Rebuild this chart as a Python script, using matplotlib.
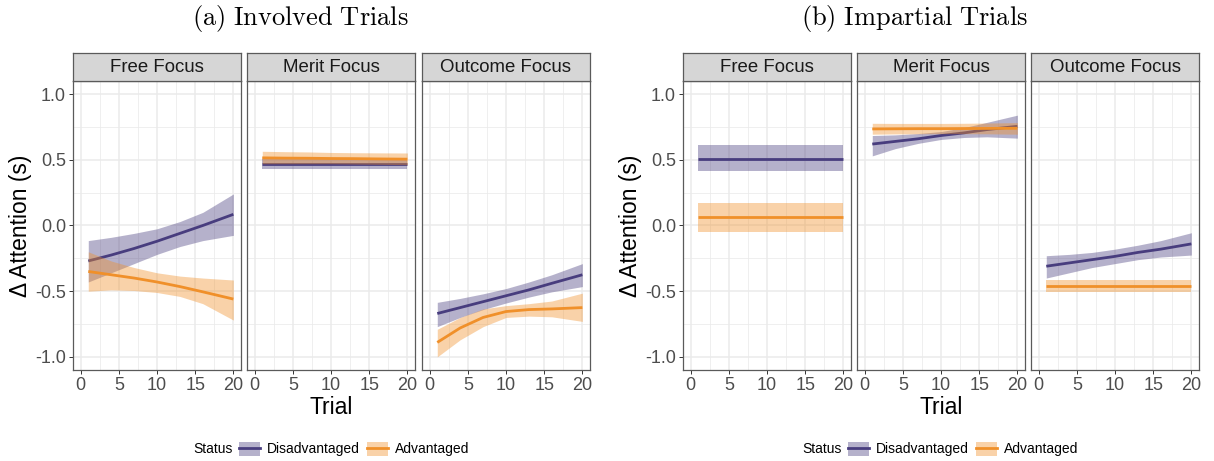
import matplotlib
matplotlib.use('Agg')
import matplotlib.pyplot as plt
from matplotlib.patches import Patch
from matplotlib.lines import Line2D
from matplotlib.legend_handler import HandlerTuple
from matplotlib.ticker import MultipleLocator

plt.rcParams['font.family'] = ['Liberation Sans', 'DejaVu Sans']
plt.rcParams['mathtext.fontset'] = 'cm'

# ---------------- data ----------------
trial = [1, 4, 7, 10, 13, 16, 20]
focus_labels = ['Free Focus', 'Merit Focus', 'Outcome Focus']
status_labels = ['Disadvantaged', 'Advantaged']
group_titles = ['(a) Involved Trials', '(b) Impartial Trials']
x_ticks = [0, 5, 10, 15, 20]
y_ticks = [-1.0, -0.5, 0.0, 0.5, 1.0]

# (a) Involved trials
inv_free_dis_fit = [-0.27, -0.225, -0.175, -0.12, -0.06, 0.00, 0.085]
inv_free_dis_lo = [-0.43, -0.36, -0.29, -0.22, -0.16, -0.115, -0.075]
inv_free_dis_hi = [-0.115, -0.09, -0.06, -0.025, 0.03, 0.10, 0.24]
inv_free_adv_fit = [-0.35, -0.375, -0.40, -0.43, -0.465, -0.505, -0.56]
inv_free_adv_lo = [-0.50, -0.49, -0.495, -0.51, -0.54, -0.595, -0.72]
inv_free_adv_hi = [-0.20, -0.27, -0.32, -0.36, -0.385, -0.40, -0.415]

inv_merit_dis_fit = [0.47, 0.47, 0.47, 0.47, 0.47, 0.47, 0.47]
inv_merit_dis_lo = [0.43, 0.43, 0.43, 0.43, 0.43, 0.43, 0.43]
inv_merit_dis_hi = [0.51, 0.51, 0.51, 0.51, 0.51, 0.51, 0.51]
inv_merit_adv_fit = [0.515, 0.513, 0.512, 0.51, 0.509, 0.507, 0.505]
inv_merit_adv_lo = [0.47, 0.47, 0.47, 0.47, 0.468, 0.466, 0.463]
inv_merit_adv_hi = [0.565, 0.562, 0.56, 0.556, 0.554, 0.553, 0.552]

inv_out_dis_fit = [-0.67, -0.625, -0.58, -0.535, -0.49, -0.44, -0.375]
inv_out_dis_lo = [-0.77, -0.70, -0.64, -0.59, -0.545, -0.505, -0.465]
inv_out_dis_hi = [-0.585, -0.555, -0.52, -0.48, -0.43, -0.375, -0.29]
inv_out_adv_fit = [-0.89, -0.78, -0.70, -0.655, -0.64, -0.635, -0.625]
inv_out_adv_lo = [-1.0, -0.87, -0.77, -0.70, -0.69, -0.695, -0.73]
inv_out_adv_hi = [-0.79, -0.70, -0.635, -0.61, -0.595, -0.575, -0.515]

# (b) Impartial trials
imp_free_dis_fit = [0.51, 0.51, 0.51, 0.51, 0.51, 0.51, 0.51]
imp_free_dis_lo = [0.415, 0.415, 0.415, 0.415, 0.415, 0.415, 0.415]
imp_free_dis_hi = [0.61, 0.61, 0.61, 0.61, 0.61, 0.61, 0.61]
imp_free_adv_fit = [0.065, 0.065, 0.065, 0.065, 0.065, 0.065, 0.065]
imp_free_adv_lo = [-0.05, -0.05, -0.05, -0.05, -0.05, -0.05, -0.05]
imp_free_adv_hi = [0.17, 0.17, 0.17, 0.17, 0.17, 0.17, 0.17]

imp_merit_dis_fit = [0.62, 0.64, 0.66, 0.685, 0.705, 0.73, 0.755]
imp_merit_dis_lo = [0.53, 0.585, 0.625, 0.655, 0.67, 0.675, 0.665]
imp_merit_dis_hi = [0.685, 0.69, 0.70, 0.715, 0.745, 0.785, 0.84]
imp_merit_adv_fit = [0.735, 0.736, 0.737, 0.737, 0.738, 0.739, 0.74]
imp_merit_adv_lo = [0.695, 0.697, 0.698, 0.699, 0.699, 0.698, 0.695]
imp_merit_adv_hi = [0.778, 0.777, 0.777, 0.777, 0.778, 0.78, 0.783]

imp_out_dis_fit = [-0.31, -0.285, -0.26, -0.235, -0.205, -0.18, -0.14]
imp_out_dis_lo = [-0.40, -0.36, -0.32, -0.29, -0.26, -0.24, -0.225]
imp_out_dis_hi = [-0.23, -0.22, -0.205, -0.18, -0.15, -0.115, -0.055]
imp_out_adv_fit = [-0.46, -0.46, -0.46, -0.46, -0.46, -0.46, -0.46]
imp_out_adv_lo = [-0.505, -0.505, -0.505, -0.505, -0.505, -0.505, -0.505]
imp_out_adv_hi = [-0.415, -0.415, -0.415, -0.415, -0.415, -0.415, -0.415]

groups = [
    [  # involved
        [(inv_free_dis_fit, inv_free_dis_lo, inv_free_dis_hi),
         (inv_free_adv_fit, inv_free_adv_lo, inv_free_adv_hi)],
        [(inv_merit_dis_fit, inv_merit_dis_lo, inv_merit_dis_hi),
         (inv_merit_adv_fit, inv_merit_adv_lo, inv_merit_adv_hi)],
        [(inv_out_dis_fit, inv_out_dis_lo, inv_out_dis_hi),
         (inv_out_adv_fit, inv_out_adv_lo, inv_out_adv_hi)],
    ],
    [  # impartial
        [(imp_free_dis_fit, imp_free_dis_lo, imp_free_dis_hi),
         (imp_free_adv_fit, imp_free_adv_lo, imp_free_adv_hi)],
        [(imp_merit_dis_fit, imp_merit_dis_lo, imp_merit_dis_hi),
         (imp_merit_adv_fit, imp_merit_adv_lo, imp_merit_adv_hi)],
        [(imp_out_dis_fit, imp_out_dis_lo, imp_out_dis_hi),
         (imp_out_adv_fit, imp_out_adv_lo, imp_out_adv_hi)],
    ],
]

# ---------------- style ----------------
W, H = 1214, 461
line_colors = ['#483D7E', '#F0902A']
fill_alpha = 0.4
border_col = '#5A5A5A'
grid_col = '#EBEBEB'
strip_fill = '#D6D6D6'
tick_col = '#4D4D4D'

fig = plt.figure(figsize=(W / 100, H / 100), dpi=100)

panel_lefts = [[73, 247, 422], [683, 857, 1031]]
panel_w = 168
panel_top, panel_bot = 81, 370
strip_top = 53

def fx(px):
    return px / W

def fy(py):
    return (H - py) / H

for g, lefts in enumerate(panel_lefts):
    for f, left in enumerate(lefts):
        ax = fig.add_axes([fx(left), fy(panel_bot), fx(panel_w),
                           (panel_bot - panel_top) / H])
        ax.set_xlim(-1, 21)
        ax.set_ylim(-1.1, 1.1)
        ax.set_xticks(x_ticks)
        ax.set_yticks(y_ticks)
        ax.xaxis.set_minor_locator(MultipleLocator(2.5))
        ax.yaxis.set_minor_locator(MultipleLocator(0.25))
        ax.grid(True, which='major', color=grid_col, lw=1.1, zorder=0)
        ax.grid(True, which='minor', color=grid_col, lw=0.55, zorder=0)
        ax.set_axisbelow(True)
        ax.tick_params(which='minor', length=0)
        ax.tick_params(which='major', length=3, width=0.7, color='#333333',
                       labelsize=13, labelcolor=tick_col, pad=2)
        ax.set_xticklabels([str(t) for t in x_ticks])
        if f == 0:
            ax.set_yticklabels(['-1.0', '-0.5', '0.0', '0.5', '1.0'])
        else:
            ax.tick_params(axis='y', labelleft=False, length=0)
        for sp in ax.spines.values():
            sp.set_color(border_col)
            sp.set_linewidth(0.9)
        for s, (fit, lo, hi) in enumerate(groups[g][f]):
            ax.fill_between(trial, lo, hi, color=line_colors[s],
                            alpha=fill_alpha, lw=0, zorder=2 + 2 * s)
            ax.plot(trial, fit, color=line_colors[s], lw=2.0,
                    zorder=3 + 2 * s, solid_capstyle='butt')
        # strip
        sax = fig.add_axes([fx(left), fy(panel_top), fx(panel_w),
                            (panel_top - strip_top) / H])
        sax.set_facecolor(strip_fill)
        sax.set_xticks([])
        sax.set_yticks([])
        for sp in sax.spines.values():
            sp.set_color(border_col)
            sp.set_linewidth(0.9)
        sax.text(0.5, 0.47, focus_labels[f], ha='center', va='center',
                 fontsize=13.4, color='#1A1A1A', transform=sax.transAxes)

    center_x = (lefts[0] + lefts[2] + panel_w) / 2
    fig.text(fx(center_x), fy(407), 'Trial', ha='center', va='center',
             fontsize=16.5)
    fig.text(fx(lefts[0] - 52), fy((panel_top + panel_bot) / 2),
             'Δ Attention (s)', ha='center', va='center', rotation=90,
             fontsize=16.5)
    title = group_titles[g].replace(' ', r'\ ')
    fig.text(fx(300 + 614 * g), fy(18), r'$\mathrm{' + title + '}$',
             ha='center', va='center', fontsize=19)

    # legend
    handles = [(Patch(facecolor=line_colors[s], alpha=fill_alpha, lw=0),
                Line2D([], [], color=line_colors[s], lw=2.0))
               for s in range(2)]
    fig.text(fx(193 + 609 * g), fy(449), 'Status', ha='left', va='center',
             fontsize=10)
    fig.legend(handles, status_labels, ncol=2, frameon=False,
               loc='center left', bbox_to_anchor=(fx(239 + 609 * g), fy(449)),
               fontsize=10, handlelength=1.5, handleheight=1.2,
               handletextpad=0.5, columnspacing=0.55, borderpad=0,
               borderaxespad=0,
               handler_map={tuple: HandlerTuple(ndivide=1)})

fig.savefig('out.png', dpi=100)
